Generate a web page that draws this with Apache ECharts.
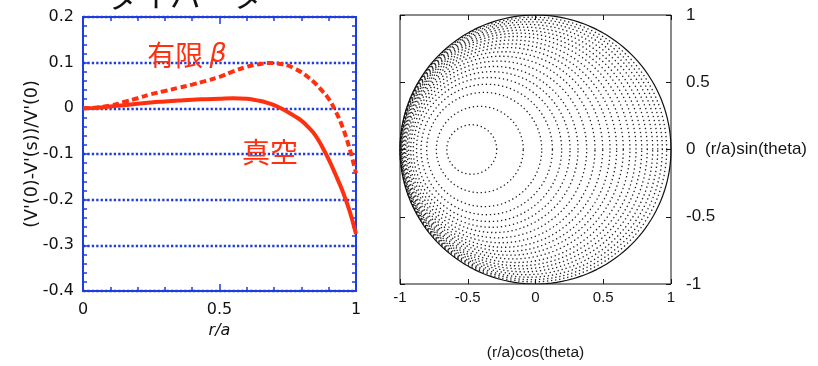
<!DOCTYPE html>
<html>
<head>
<meta charset="utf-8">
<script src="https://cdn.jsdelivr.net/npm/echarts@6/dist/echarts.min.js"></script>
<style>
  html, body { margin: 0; padding: 0; background: #fff; }
  #chart { width: 818px; height: 366px; }
</style>
</head>
<body>
<div id="chart"></div>
<script>
// Normalised minor radius r/a sampled along the profile
const rGrid = [0, 0.05, 0.1, 0.15, 0.2, 0.25, 0.3, 0.35, 0.4, 0.45, 0.5, 0.55, 0.6,
               0.625, 0.65, 0.675, 0.7, 0.725, 0.75, 0.775, 0.8, 0.825, 0.85, 0.875,
               0.9, 0.925, 0.95, 0.975, 1];
// (V'(0)-V'(s))/V'(0) for the vacuum field
const vacuumWell = [0, 0.001, 0.004, 0.007, 0.010, 0.013, 0.015, 0.017, 0.019, 0.020, 0.021, 0.022, 0.021,
                    0.019, 0.016, 0.012, 0.007, 0.000, -0.008, -0.017, -0.027, -0.041, -0.058, -0.083,
                    -0.112, -0.145, -0.180, -0.222, -0.275];
// (V'(0)-V'(s))/V'(0) at finite beta
const finiteBetaWell = [0, 0.002, 0.006, 0.014, 0.022, 0.031, 0.038, 0.045, 0.052, 0.060, 0.069, 0.081, 0.091,
                        0.095, 0.097, 0.099, 0.099, 0.097, 0.094, 0.087, 0.079, 0.068, 0.055, 0.039,
                        0.021, -0.006, -0.040, -0.085, -0.142];

// Flux surfaces: midplane crossings (inboard / outboard) of each surface, in r/a units
const surfaceInboard = [-0.655, -0.732, -0.803, -0.845, -0.878, -0.902, -0.921, -0.936, -0.948, -0.958, -0.966,
                        -0.973, -0.979, -0.984, -0.988, -0.991, -0.994, -0.996, -0.998, -0.999, -1.0];
const surfaceOutboard = [-0.286, -0.090, 0.046, 0.125, 0.193, 0.255, 0.314, 0.378, 0.439, 0.496, 0.550,
                         0.599, 0.648, 0.697, 0.742, 0.784, 0.825, 0.865, 0.902, 0.936, 0.968];
// Last closed surface
const boundaryInboard = -1;
const boundaryOutboard = 1;

const profileTicks = { min: 0, max: 1, interval: 0.5 };
const wellTicks = { min: -0.4, max: 0.2, interval: 0.1 };
const sectionTicks = { min: -1, max: 1, interval: 0.5 };

const labelVacuum = '真空';
const labelFiniteBeta = '有限';
const titleText = 'ダイバータ';

const BLUE = '#1e3de0';
const RED = '#ff3010';
const INK = '#151515';

function pairs(xs, ys) { return xs.map((x, i) => [x, ys[i]]); }

// Circle through the two midplane crossings, sampled around the poloidal angle
function surfacePoints(xin, xout) {
  const c = (xin + xout) / 2, rad = (xout - xin) / 2, n = 160, pts = [];
  for (let k = 0; k <= n; k++) {
    const t = 2 * Math.PI * k / n;
    pts.push([c + rad * Math.cos(t), rad * Math.sin(t)]);
  }
  return pts;
}

const leftFont = 'DejaVu Sans';
const rightFont = 'Liberation Sans';

const sectionSeries = surfaceInboard.map((xin, i) => ({
  type: 'line', xAxisIndex: 2, yAxisIndex: 2, data: surfacePoints(xin, surfaceOutboard[i]),
  showSymbol: false, smooth: false, silent: true, animation: false,
  lineStyle: { color: '#1c1c1c', width: 1.3, type: [1.3, 2.8] }
}));
sectionSeries.push({
  type: 'line', xAxisIndex: 2, yAxisIndex: 2, data: surfacePoints(boundaryInboard, boundaryOutboard),
  showSymbol: false, smooth: false, silent: true, animation: false,
  lineStyle: { color: '#111', width: 1.2 }
});

// Shared inward tick styling for the mirrored frame axes
function frameAxis(extra, color, major, minor) {
  return Object.assign({
    type: 'value',
    axisLine: { show: false, onZero: false },
    axisTick: { show: true, inside: true, length: major, lineStyle: { color: color, width: color === BLUE ? 1.5 : 1 } },
    minorTick: minor ? { show: true, splitNumber: 5, length: minor, lineStyle: { color: color, width: 1.5 } } : { show: false },
    splitLine: { show: false },
    axisLabel: { show: false },
    nameMoveOverlap: false
  }, extra);
}

const chart = echarts.init(document.getElementById('chart'), null, { renderer: 'canvas' });
chart.setOption({
  animation: false,
  backgroundColor: '#fff',
  graphic: [{
    type: 'text', x: 108, y: -5,
    style: { text: titleText, fill: '#111', font: '31px "Noto Sans CJK JP"', verticalAlign: 'middle' }
  }],
  grid: [
    { left: 83, top: 17, width: 273, height: 274, show: true, borderColor: BLUE, borderWidth: 2, backgroundColor: 'transparent' },
    { left: 400, top: 15, width: 271, height: 274, show: true, borderColor: INK, borderWidth: 1, backgroundColor: 'transparent' }
  ],
  xAxis: [
    frameAxis({
      gridIndex: 0, position: 'bottom', ...profileTicks,
      axisLabel: { show: true, color: '#111', fontFamily: leftFont, fontSize: 16, margin: 11 },
      name: 'r/a', nameLocation: 'middle', nameGap: 32,
      nameTextStyle: { color: '#111', fontFamily: leftFont, fontSize: 16, fontStyle: 'italic' }
    }, BLUE, 7, 4),
    frameAxis({ gridIndex: 0, position: 'top', ...profileTicks }, BLUE, 7, 4),
    frameAxis({
      gridIndex: 1, position: 'bottom', ...sectionTicks,
      axisLabel: { show: true, color: INK, fontFamily: rightFont, fontSize: 15, margin: 6 },
      name: '(r/a)cos(theta)', nameLocation: 'middle', nameGap: 61,
      nameTextStyle: { color: INK, fontFamily: rightFont, fontSize: 15.5 }
    }, INK, 5, 0),
    frameAxis({ gridIndex: 1, position: 'top', ...sectionTicks }, INK, 5, 0)
  ],
  yAxis: [
    frameAxis({
      gridIndex: 0, position: 'left', ...wellTicks,
      splitLine: { show: true, lineStyle: { color: BLUE, width: 2.4, type: [2.3, 2.1] } },
      axisLabel: { show: true, color: '#111', fontFamily: leftFont, fontSize: 16, margin: 9 },
      name: "(V'(0)-V'(s))/V'(0)", nameLocation: 'middle', nameGap: 42,
      nameTextStyle: { color: '#111', fontFamily: leftFont, fontSize: 17.5 }
    }, BLUE, 5, 4),
    frameAxis({ gridIndex: 0, position: 'right', ...wellTicks }, BLUE, 5, 4),
    frameAxis({
      gridIndex: 1, position: 'right', ...sectionTicks,
      axisLabel: { show: true, color: INK, fontFamily: rightFont, fontSize: 17, margin: 15 },
      name: '(r/a)sin(theta)', nameLocation: 'middle', nameGap: 34, nameRotate: 0,
      nameTextStyle: { color: INK, fontFamily: rightFont, fontSize: 17, align: 'left', verticalAlign: 'middle' }
    }, INK, 5, 0),
    frameAxis({ gridIndex: 1, position: 'left', ...sectionTicks }, INK, 5, 0)
  ],
  series: [
    {
      type: 'line', xAxisIndex: 0, yAxisIndex: 0, data: pairs(rGrid, finiteBetaWell),
      showSymbol: false, smooth: 0.4, silent: true, z: 5,
      lineStyle: { color: RED, width: 4, type: [6.5, 3.5] },
      markPoint: {
        symbolSize: 0, silent: true,
        label: {
          show: true, position: 'inside', formatter: labelFiniteBeta + ' {b|β}',
          color: RED, fontFamily: 'Noto Sans CJK JP', fontSize: 28,
          rich: { b: { color: RED, fontFamily: 'DejaVu Sans', fontStyle: 'italic', fontSize: 27 } }
        },
        data: [{ coord: [0.381, 0.117] }]
      }
    },
    {
      type: 'line', xAxisIndex: 0, yAxisIndex: 0, data: pairs(rGrid, vacuumWell),
      showSymbol: false, smooth: 0.4, silent: true, z: 5,
      lineStyle: { color: RED, width: 4 },
      markPoint: {
        symbolSize: 0, silent: true,
        label: {
          show: true, position: 'inside', formatter: labelVacuum,
          color: RED, fontFamily: 'Noto Sans CJK JP', fontSize: 28
        },
        data: [{ coord: [0.685, -0.096] }]
      }
    },
    ...sectionSeries
  ]
});
</script>
</body>
</html>
